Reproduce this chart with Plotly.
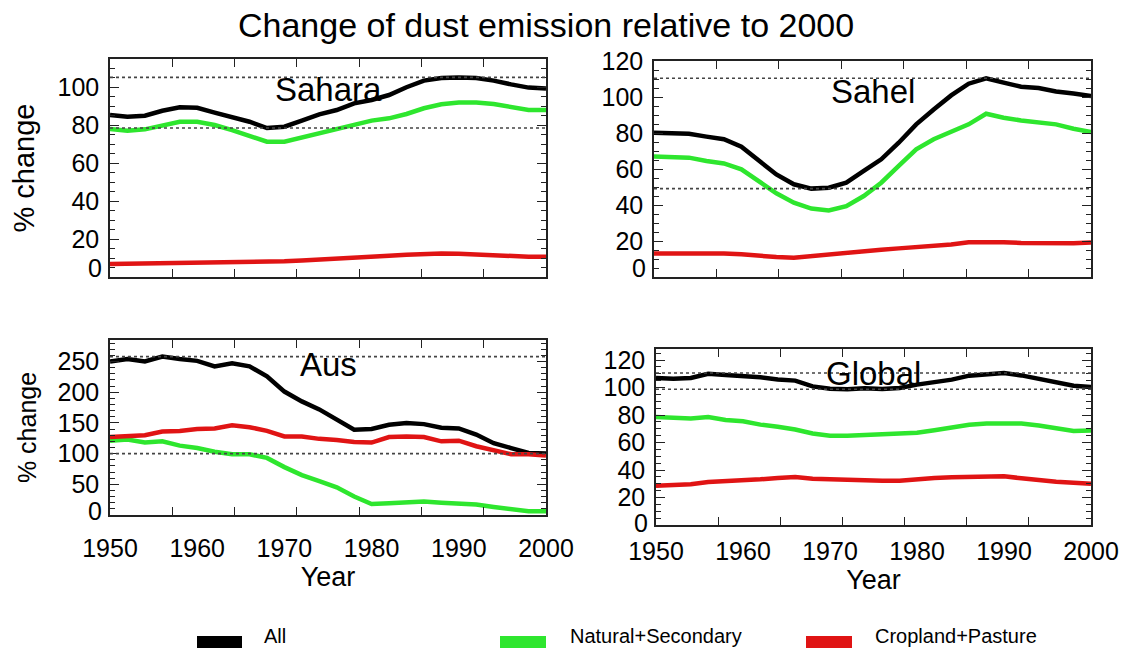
import plotly.graph_objects as go

years = list(range(1950, 2001, 2))

sahara_all = [85.5, 84.6, 85.1, 87.7, 89.5, 89.3, 86.7, 84.6, 81.9, 78.6, 79.3, 82.5, 85.8,
              88.1, 91.6, 93.4, 96.0, 100.1, 103.6, 105.0, 105.3, 105.0, 103.6, 101.6, 99.9, 99.5]
sahara_nat = [78.1, 77.2, 77.9, 79.7, 81.9, 81.9, 80.2, 77.5, 74.4, 71.4, 71.4, 73.7, 76.1,
              77.9, 80.2, 82.5, 83.7, 86.0, 89.0, 91.1, 92.0, 92.1, 91.3, 89.9, 88.1, 88.1]
sahara_crop = [6.9, 7.0, 7.2, 7.4, 7.6, 7.6, 7.6, 7.6, 7.7, 7.8, 8.3, 8.7, 9.1,
               9.6, 10.1, 10.6, 11.2, 11.7, 12.1, 12.4, 12.3, 11.8, 11.2, 10.9, 10.7, 10.7]

sahel_all = [80.2, 80.2, 79.6, 78.0, 76.5, 72.4, 64.4, 57.0, 51.5, 49.1, 49.6, 52.4, 58.9,
             65.4, 74.6, 84.8, 93.1, 100.9, 107.4, 110.4, 108.0, 105.7, 105.0, 103.1, 101.9, 100.6]
sahel_nat = [66.9, 66.9, 66.3, 64.4, 63.1, 59.8, 53.3, 46.5, 41.3, 38.0, 37.0, 39.4, 45.0,
             52.4, 61.7, 70.9, 76.5, 80.6, 84.8, 90.7, 88.5, 87.0, 86.1, 84.8, 82.4, 80.6]
sahel_crop = [13.1, 13.1, 13.3, 13.5, 13.1, 12.6, 11.7, 11.1, 10.7, 11.7, 12.6, 13.3, 14.3,
              15.2, 15.9, 16.5, 17.0, 18.1, 19.3, 19.4, 19.3, 18.9, 18.7, 18.5, 18.7, 19.1]

aus_all = [250, 254, 250, 258, 254, 251, 242, 247, 242, 226, 201, 185, 172,
           155, 139, 140, 147, 150, 148, 142, 141, 131, 117, 109, 101, 100]
aus_nat = [121, 123, 118, 120, 113, 109, 103, 99, 99, 93, 78, 65, 55,
           45, 30, 18, 19, 21, 22, 20, 19, 17, 13, 9, 6, 6]
aus_crop = [127, 129, 130, 136, 137, 140, 141, 146, 143, 137, 128, 128, 124,
            122, 119, 118, 127, 128, 127, 120, 121, 112, 105, 99, 99, 97]

global_all = [106.9, 106.4, 106.9, 110.0, 109.1, 108.6, 107.4, 105.9, 105.0, 100.8, 99.1, 98.7, 99.4,
              98.9, 99.6, 102.1, 103.8, 105.7, 108.6, 109.8, 110.5, 108.8, 106.2, 103.8, 101.3, 100.4]
global_nat = [78.5, 77.6, 77.4, 78.5, 76.3, 75.4, 73.0, 71.5, 69.5, 66.5, 64.9, 64.9, 65.4,
              65.4, 66.2, 67.1, 68.9, 70.8, 72.9, 73.8, 74.2, 73.8, 72.3, 70.3, 68.3, 68.7]
global_crop = [28.6, 28.8, 29.6, 31.3, 31.8, 32.5, 33.2, 34.2, 34.9, 33.7, 33.2, 33.0, 32.8,
               32.2, 32.2, 33.5, 34.2, 34.7, 35.2, 35.0, 35.4, 34.0, 32.5, 31.5, 30.8, 30.0]

region_names = ["Sahara", "Sahel", "Aus", "Global"]
series_names = ["All", "Natural+Secondary", "Cropland+Pasture"]
y_ranges = [[0, 115], [0, 120], [0, 285], [0, 128]]
y_tickvals = [[0, 20, 40, 60, 80, 100],
              [0, 20, 40, 60, 80, 100, 120],
              [0, 50, 100, 150, 200, 250],
              [0, 20, 40, 60, 80, 100, 120]]
y_minor = [5, 5, 10, 5]
x_ticks = [1950, 1960, 1970, 1980, 1990, 2000]

W, H = 1126, 650
# panel boxes in pixels: (left, right, top, bottom)
boxes = [(110, 546, 59, 277), (654, 1091, 61, 277), (110, 546, 340, 515), (656, 1091, 349, 525)]
zero_shift = [9, 9, 4, 2]
x_label_standoff = [0, 0, 10, 3]

colors = ["#000000", "#2ee62e", "#e01414"]
FONT = "Liberation Sans, Arial, sans-serif"

data = [
    (sahara_all, sahara_nat, sahara_crop),
    (sahel_all, sahel_nat, sahel_crop),
    (aus_all, aus_nat, aus_crop),
    (global_all, global_nat, global_crop),
]

fig = go.Figure()
layout = dict(
    width=W, height=H,
    margin=dict(l=0, r=0, t=0, b=0),
    paper_bgcolor="white", plot_bgcolor="white",
    showlegend=False,
    font=dict(family=FONT, color="black"),
)
shapes = []
annotations = []

for i, (name, series) in enumerate(zip(region_names, data)):
    n = "" if i == 0 else str(i + 1)
    xa, ya = "x" + n, "y" + n
    for s, c, sn in zip(series, colors, series_names):
        fig.add_trace(go.Scatter(x=years, y=s, mode="lines", name=sn,
                                 line=dict(color=c, width=4.5), xaxis=xa, yaxis=ya))
    l, r, t, b = boxes[i]
    bottom_row = i >= 2
    layout["xaxis" + n] = dict(
        domain=[l / W, r / W], anchor=ya, range=[1950, 2000],
        showline=True, linecolor="#222", linewidth=1.5, mirror="ticks",
        showgrid=False, zeroline=False,
        tickvals=x_ticks, ticks="inside", ticklen=0.1, tickcolor="rgba(0,0,0,0)",
        showticklabels=bottom_row,
        tickfont=dict(size=25, family=FONT),
        ticklabelstandoff=x_label_standoff[i],
        minor=dict(ticks="inside", tick0=1950, dtick=50 / 7, ticklen=8,
                   tickcolor="#222", tickwidth=1.2, showgrid=False),
        automargin=False,
        title=dict(text="Year" if bottom_row else "", font=dict(size=27, family=FONT),
                   standoff=0),
    )
    tv = y_tickvals[i]
    layout["yaxis" + n] = dict(
        domain=[1 - b / H, 1 - t / H], anchor=xa, range=y_ranges[i],
        showline=True, linecolor="#222", linewidth=1.5, mirror="ticks",
        showgrid=False, zeroline=False,
        tickvals=tv, ticktext=["" if v == 0 else str(v) for v in tv],
        ticks="inside", ticklen=9, tickwidth=1.2, tickcolor="#222",
        tickfont=dict(size=25, family=FONT), ticklabelstandoff=4,
        minor=dict(ticks="inside", dtick=y_minor[i], ticklen=5, tickcolor="#222",
                   tickwidth=1.0, showgrid=False),
        automargin=False,
        title=dict(text="% change" if i in (0, 2) else "",
                   font=dict(size=(29 if i == 0 else 25), family=FONT), standoff=14),
    )
    # the zero label sits a little above the bottom axis, as in the original
    annotations.append(dict(text=str(tv[0]), xref=xa + " domain", yref=ya, x=0, y=tv[0],
                            xanchor="right", yanchor="middle", xshift=-7, yshift=zero_shift[i],
                            borderpad=0, showarrow=False,
                            font=dict(size=25, family=FONT, color="black")))
    all_s = series[0]
    for v in (max(all_s), min(all_s)):
        shapes.append(dict(type="line", xref=xa, yref=ya, x0=1950, x1=2000, y0=v, y1=v,
                           line=dict(color="#444", width=1.6, dash="dot")))
    annotations.append(dict(text=name, xref=xa + " domain", yref=ya + " domain",
                            x=0.5, y=0.86, xanchor="center", yanchor="middle",
                            showarrow=False, font=dict(size=33, family=FONT, color="black")))

annotations.append(dict(text="Change of dust emission relative to 2000", xref="paper", yref="paper",
                        x=546 / W, y=1 - 25 / H, xanchor="center", yanchor="middle",
                        showarrow=False, font=dict(size=34, family=FONT, color="black")))

# legend at the bottom
legend_items = [(197, 242, 262), (500, 546, 568), (806, 852, 873)]
for (x0, x1, tx), c, sn in zip(legend_items, colors, series_names):
    shapes.append(dict(type="rect", xref="paper", yref="paper",
                       x0=x0 / W, x1=x1 / W, y0=1 - 648 / H, y1=1 - 636 / H,
                       fillcolor=c, line=dict(width=0)))
    annotations.append(dict(text=sn, xref="paper", yref="paper", x=tx / W, y=1 - 636 / H,
                            xanchor="left", yanchor="middle", showarrow=False,
                            font=dict(size=20, family=FONT, color="black")))

layout["shapes"] = shapes
layout["annotations"] = annotations
fig.update_layout(**layout)
fig.write_html("out.html")
